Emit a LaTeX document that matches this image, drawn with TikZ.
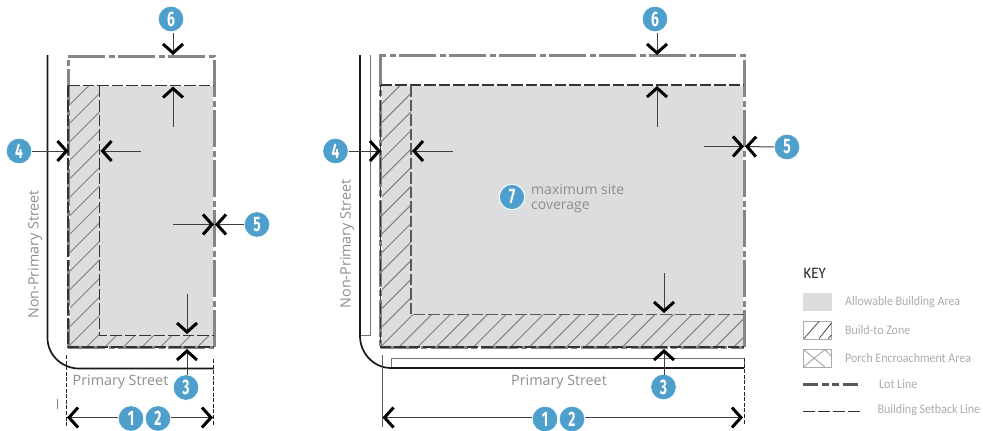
\documentclass[tikz,border=0pt]{standalone}
\usepackage{fontspec}
\usetikzlibrary{arrows.meta}
\setmainfont{Open Sans}
\newfontfamily\keyfont[FakeStretch=0.92]{Carlito}
\newfontfamily\badgefont[FakeStretch=0.66]{Fira Sans}
\definecolor{badgeblue}{HTML}{4E9FCB}
\definecolor{areagray}{HTML}{DCDDDF}
\definecolor{lotgray}{HTML}{858585}
\definecolor{textgray}{HTML}{8E8E8E}
\definecolor{keygray}{HTML}{ABABAB}
\tikzset{
  badge/.style={circle,fill=badgeblue,draw=white,line width=0.6pt,minimum size=25.5pt,inner sep=0pt,text=white,font=\badgefont\bfseries\fontsize{21}{21}\selectfont},
  dimarrow/.style={draw=black!75,line width=1pt,-{Straight Barb[length=9pt,width=20pt,line width=3pt,color=black]}},
  lotline/.style={draw=lotgray,line width=3pt,dash pattern=on 37pt off 3.5pt on 6pt off 3.5pt},
  lotunder/.style={draw=white,line width=3pt},
  setback/.style={draw=black!80,line width=1.1pt,dash pattern=on 11.5pt off 3pt},
  setbackgray/.style={draw=black!65,line width=1.2pt,dash pattern=on 11.5pt off 3pt},
  road/.style={draw=black!90,line width=1.7pt},
  thinroad/.style={draw=black!55,line width=1pt},
  hatchline/.style={draw=black!50,line width=1pt},
  thindash/.style={draw=black!85,line width=0.9pt,dash pattern=on 4pt off 1.6pt},
  streetlabel/.style={text=textgray,font=\fontsize{14.3}{14.3}\selectfont,inner sep=0pt},
  keylabel/.style={text=keygray,font=\keyfont\fontsize{13}{13}\selectfont,inner sep=0pt,anchor=west},
}
\begin{document}
\begin{tikzpicture}[x=1pt,y=-1pt]
\useasboundingbox (0,0) rectangle (983,431);
% ---------- LEFT LOT ----------
\fill[areagray] (68,85.5) rectangle (214,347);
\begin{scope}
  \clip (68,85.5) -- (99.5,85.5) -- (99.5,335.6) -- (214,335.6) -- (214,347) -- (68,347) -- cycle;
  \foreach \k in {-16,...,10} {
    \draw[hatchline] ({68+\k*18.5},347) -- ++(300,-300);
  }
\end{scope}
\draw[lotunder] (68,347) -- (68,56) -- (214,56) -- (214,347);
\draw[lotline] (214,347) -- (214,56) -- (68,56) -- (68,347);
\draw[lotline] (68,347) -- (214,347);
\draw[draw=white,line width=1.2pt] (68,85.5) -- (214,85.5);
\draw[setback] (68,85.5) -- (214,85.5);
\draw[setback] (99.5,85.5) -- (99.5,335.6) -- (214,335.6);
\draw[setback] (68,85.5) -- (68,347) -- (214,347);
% road
\coordinate (rl1) at (47.5,55);
\coordinate (rl2) at (47.5,338);
\coordinate (rl3) at (79,368.5);
\coordinate (rl4) at (214,368.5);
\draw[road] (rl1) -- (rl2) .. controls (47.5,355) and (62,368.5) .. (rl3) -- (rl4);
% dim extents
\coordinate (dl1a) at (66.5,355); \coordinate (dl1b) at (66.5,426);
\coordinate (dl2a) at (213.5,359); \coordinate (dl2b) at (213.5,425);
\draw[thindash] (dl1a) -- (dl1b);
\draw[thindash] (dl2a) -- (dl2b);
\coordinate (tl1) at (57.5,399); \coordinate (tl2) at (57.5,408.5);
\draw[draw=black!50,line width=0.8pt] (tl1) -- (tl2);
% street labels
\node[streetlabel,rotate=90] (nps1) at (35,254.5) {Non-Primary Street};
\node[streetlabel] (ps1) at (120.5,381.5) {Primary Street};
% badges
\node[badge] (l1) at (131,418.5) {1};
\node[badge] (l2) at (158,418.5) {2};
\node[badge] (l3) at (186,387.5) {3};
\node[badge] (l4) at (19,151) {4};
\node[badge] (l5) at (257,224.5) {5};
\node[badge] (l6) at (171,19) {6};
% arrows
\coordinate (la1) at (67,417.5); \coordinate (la2) at (213,417.5);
\draw[dimarrow] (l1.west |- la1) -- (la1);
\draw[dimarrow] (l2.east |- la2) -- (la2);
\coordinate (la3) at (187,349);
\draw[dimarrow] (187,375) -- (la3);
\coordinate (la4) at (68.5,151);
\draw[dimarrow] (l4.east) -- (la4);
\coordinate (la4s) at (141,151); \coordinate (la4e) at (100.5,151);
\draw[dimarrow] (la4s) -- (la4e);
\coordinate (la5) at (215,224.5);
\draw[dimarrow] (l5.west) -- (la5);
\coordinate (la5s) at (173,224.5); \coordinate (la5e) at (214,224.5);
\draw[dimarrow] (la5s) -- (la5e);
\coordinate (la6) at (173,55);
\draw[dimarrow] (173,33) -- (la6);
\coordinate (la6s) at (173,127); \coordinate (la6e) at (173,86.5);
\draw[dimarrow] (la6s) -- (la6e);
\coordinate (la3s) at (187,294); \coordinate (la3e) at (187,334);
\draw[dimarrow] (la3s) -- (la3e);
% ---------- RIGHT LOT ----------
\fill[areagray] (380.5,85) rectangle (744,347);
\begin{scope}
  \clip (380.5,85) -- (411,85) -- (411,314.3) -- (744,314.3) -- (744,347) -- (380.5,347) -- cycle;
  \foreach \k in {-15,...,22} {
    \draw[hatchline] ({380.5+\k*18.6},347) -- ++(300,-300);
  }
\end{scope}
\draw[lotunder] (380.5,347) -- (380.5,55) -- (744,55) -- (744,347);
\draw[lotline] (744,347) -- (744,55) -- (380.5,55) -- (380.5,347);
\draw[lotline] (380.5,347) -- (744,347);
\draw[draw=white,line width=1.2pt] (380.5,85) -- (744,85);
\draw[setback] (380.5,85) -- (744,85);
\draw[setbackgray] (411,85) -- (411,314.3) -- (744,314.3);
\draw[setback] (380.5,85) -- (380.5,347) -- (744,347);
% road
\coordinate (rr1) at (360,55);
\coordinate (rr2) at (360,336);
\coordinate (rr3) at (391,368);
\coordinate (rr4) at (744,368);
\coordinate (trv1) at (370.5,55);
\coordinate (trv2) at (370.5,335.5);
\coordinate (trv3) at (360,335.5);
\coordinate (trh1) at (391,368);
\coordinate (trh2) at (391,358.5);
\coordinate (trh3) at (744,358.5);
\draw[thinroad] (trv1) -- (trv2) -- (trv3);
\draw[thinroad] (trh1) -- (trh2) -- (trh3) -- (rr4);
\draw[road] (rr1) -- (rr2) .. controls (360,353.5) and (374,368) .. (rr3) -- (rr4);
% dim extents
\coordinate (dr1a) at (382,355); \coordinate (dr1b) at (382,427);
\coordinate (dr2a) at (744,358); \coordinate (dr2b) at (744,425);
\draw[draw=black!65,line width=1pt] (dr1a) -- (dr1b);
\draw[thindash] (dr2a) -- (dr2b);
% street labels
\node[streetlabel,rotate=90] (nps2) at (347,244) {Non-Primary Street};
\node[streetlabel] (ps2) at (559,381.5) {Primary Street};
% badges
\node[badge] (r1) at (545,419) {1};
\node[badge] (r2) at (572,419) {2};
\node[badge] (r3) at (663.5,387) {3};
\node[badge] (r4) at (335.5,151) {4};
\node[badge] (r5) at (787,147) {5};
\node[badge] (r6) at (655,19) {6};
\node[badge,line width=1pt] (r7) at (512,197) {7};
% arrows
\coordinate (ra1) at (382.5,417.5); \coordinate (ra2) at (743,417.5);
\draw[dimarrow] (r1.west |- ra1) -- (ra1);
\draw[dimarrow] (r2.east |- ra2) -- (ra2);
\coordinate (ra3) at (664,349);
\draw[dimarrow] (664,375) -- (ra3);
\coordinate (ra3s) at (664,273); \coordinate (ra3e) at (664,313);
\draw[dimarrow] (ra3s) -- (ra3e);
\coordinate (ra4) at (381,151);
\draw[dimarrow] (r4.east) -- (ra4);
\coordinate (ra4s) at (453,151); \coordinate (ra4e) at (412,151);
\draw[dimarrow] (ra4s) -- (ra4e);
\coordinate (ra5) at (745,146.5);
\draw[dimarrow] (r5.west) -- (ra5);
\coordinate (ra5s) at (704,146.5); \coordinate (ra5e) at (744,146.5);
\draw[dimarrow] (ra5s) -- (ra5e);
\coordinate (ra6) at (657,55);
\draw[dimarrow] (657,33) -- (ra6);
\coordinate (ra6s) at (657,127); \coordinate (ra6e) at (657,86);
\draw[dimarrow] (ra6s) -- (ra6e);
\node[anchor=west,align=left,inner sep=0pt,text=textgray,font=\fontsize{14}{15}\selectfont] (cov) at (531,198.5) {maximum site\\coverage};
% ---------- KEY ----------
\node[anchor=west,inner sep=0pt,text=black!85,font=\keyfont\fontsize{16}{16}\selectfont] (keyt) at (803.5,273) {KEY};
\fill[areagray] (803,293) rectangle (832,311);
\node[keylabel] (k1) at (845,302) {Allowable Building Area};
\draw[draw=keygray,line width=1pt] (803.5,321.5) rectangle (831.5,339);
\draw[draw=black!80,line width=0.7pt] (804,338.5) -- (819,321.5);
\draw[draw=black!80,line width=0.7pt] (819,338.5) -- (831.5,323);
\draw[draw=black!80,line width=0.7pt] (828,338.5) -- (831.5,335);
\node[keylabel] (k2) at (845,330) {Build-to Zone};
\draw[draw=keygray,line width=1pt] (803.5,349.5) rectangle (831.5,367);
\draw[draw=keygray,line width=1pt] (803.5,349.5) -- (825,367) (803.5,367) -- (825,349.5) (825,349.5) -- (831.5,356.5);
\node[keylabel] (k3) at (845,358) {Porch Encroachment Area};
\coordinate (kl1) at (803,384); \coordinate (kl2) at (861,384);
\draw[draw=black!65,line width=3pt,dash pattern=on 15pt off 3.5pt on 7pt off 3.5pt on 7pt off 3.5pt] (kl1) -- (kl2);
\node[keylabel] (k4) at (879,384.5) {Lot Line};
\coordinate (ks1) at (803,411); \coordinate (ks2) at (861,411);
\draw[draw=black!80,line width=0.9pt,dash pattern=on 12pt off 3pt] (ks1) -- (ks2);
\node[keylabel] (k5) at (877.5,410.5) {Building Setback Line};
\end{tikzpicture}
\end{document}
